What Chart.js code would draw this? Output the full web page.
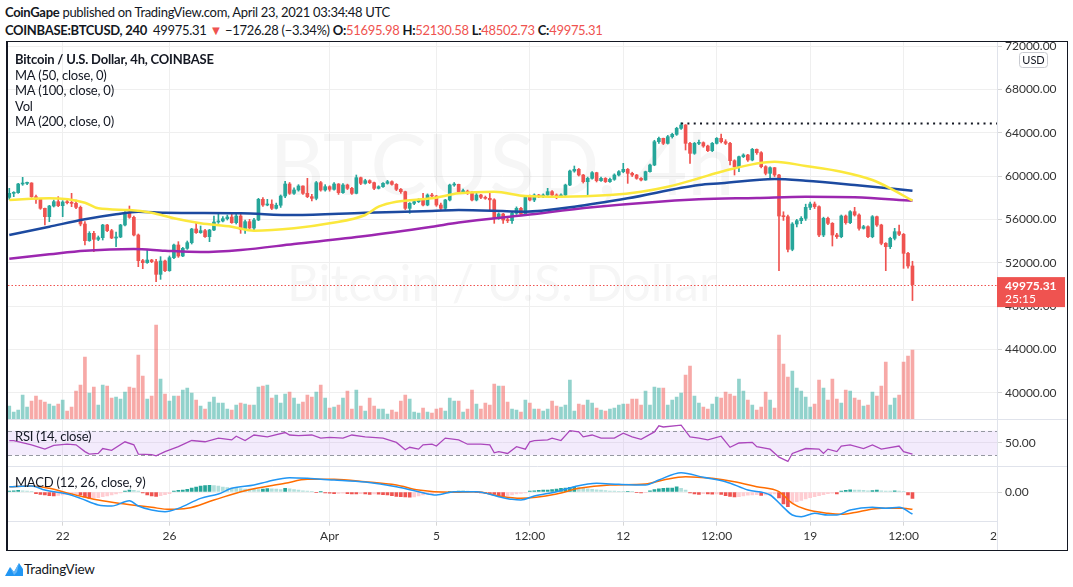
<!DOCTYPE html>
<html>
<head>
<meta charset="utf-8">
<title>BTCUSD 4h</title>
<script src="https://cdn.jsdelivr.net/npm/chart.js@4.4.1/dist/chart.umd.min.js"></script>
<style>
  body { margin: 0; width: 1073px; height: 587px; background: #fff; overflow: hidden; position: relative;
         font-family: Lato, "Noto Sans", sans-serif; color: #131722; }
  .hdr { position: absolute; left: 5px; font-size: 13px; letter-spacing: -0.3px; line-height: 16px; white-space: nowrap; }
  .red { color: #ef5350; }
  #frame { position: absolute; left: 6px; top: 41px; width: 1059px; height: 508px;
           border: 1px solid #131722; border-left-width: 2px; }
  #chart { display: block; }
  .lab { position: absolute; left: 15px; font-size: 13px; letter-spacing: -0.2px; line-height: 15px; white-space: nowrap; }
  #tv { position: absolute; left: 24px; top: 561px; font-size: 13.5px; letter-spacing: -0.2px; }
</style>
</head>
<body>
<div class="hdr" style="top:4px"><b>CoinGape</b> published on TradingView.com, April 23, 2021 03:34:48 UTC</div>
<div class="hdr" style="top:22px"><b>COINBASE:BTCUSD, 240</b>&nbsp; 49975.31 <span class="red">&#9660;</span> &minus;1726.28 (&minus;3.34%) <b>O:</b><span class="red">51695.98</span> <b>H:</b><span class="red">52130.58</span> <b>L:</b><span class="red">48502.73</span> <b>C:</b><span class="red">49975.31</span></div>

<div id="frame"><canvas id="chart" width="1059" height="508"></canvas></div>

<div class="lab" style="top:52px;font-weight:bold">Bitcoin / U.S. Dollar, 4h, COINBASE</div>
<div class="lab" style="top:68px">MA (50, close, 0)</div>
<div class="lab" style="top:83px">MA (100, close, 0)</div>
<div class="lab" style="top:99px">Vol</div>
<div class="lab" style="top:114px">MA (200, close, 0)</div>
<div class="lab" style="top:429px">RSI (14, close)</div>
<div class="lab" style="top:475px">MACD (12, 26, close, 9)</div>

<svg style="position:absolute;left:4px;top:559px" width="20" height="20" viewBox="0 0 20 20">
  <path d="M1 17 L6 8 L10 13 L15 4 L19 10 L19 17 Z" fill="#2196f3"/>
  <path d="M6 8 L10 13 L15 4 L13 13 L10 16 Z" fill="#64b5f6"/>
</svg>
<div id="tv">TradingView</div>

<script>
// 4h candles, Mar 20 - Apr 23 2021 (open of each candle = previous close)
const firstOpen = 58031;
const closes = [
  58400, 58462, 59262, 59323, 59354, 58092, 57846, 57016, 56246, 57231,
  57631, 57262, 57600, 57538, 57477, 57108, 55569, 54031, 54708, 54154,
  54308, 55477, 54954, 54277, 54369, 55477, 56615, 56185, 54554, 52185,
  52000, 52246, 52092, 50923, 52154, 51262, 52462, 53631, 52615, 53323,
  53846, 55108, 54769, 54954, 54400, 55015, 55754, 55846, 56062, 56215,
  55692, 56308, 55077, 55785, 55200, 55938, 57846, 57323, 57400, 57015,
  57300, 58154, 59262, 58400, 58708, 59077, 58400, 58092, 57938, 59385,
  58708, 59015, 58770, 59262, 58462, 59170, 58862, 58400, 59846, 59323,
  59570, 59385, 58862, 59015, 59323, 59477, 59230, 58770, 58554, 57015,
  57477, 57631, 57785, 57323, 58246, 58154, 57323, 57015, 57785, 59170,
  59230, 58554, 58600, 58450, 57785, 58246, 58031, 57938, 57800, 56092,
  56492, 55938, 55877, 56554, 57015, 56492, 58031, 57785, 58246, 58092,
  58246, 58554, 58246, 58031, 58246, 59169, 60461, 60615, 60092, 59477,
  59784, 60307, 59569, 59784, 59477, 59692, 60092, 60400, 60615, 60246,
  60092, 59784, 59630, 60400, 61015, 63169, 63477, 63015, 63630, 63846,
  64400, 64707, 63015, 62092, 63015, 63077, 62769, 62338, 63015, 63477,
  63169, 63015, 61415, 60861, 61784, 61938, 61477, 62461, 62153, 60861,
  60246, 60769, 60092, 56307, 56246, 53230, 55569, 55877, 56092, 57107,
  57415, 57169, 54553, 56092, 55631, 54553, 54400, 56307, 55692, 56707,
  56400, 55169, 55323, 54400, 56246, 55477, 53784, 53477, 54246, 54861,
  54615, 52861, 51695.98, 49975.31
];
const highs = [
  58862, 58555, 59323, 59877, 59446, 59385, 58246, 57877, 57046, 57292,
  57785, 58092, 57723, 57846, 58400, 57785, 57231, 55800, 54862, 54892,
  54462, 55538, 55538, 55077, 54831, 55538, 56708, 57231, 56308, 54646,
  52308, 53231, 52308, 52308, 52554, 52246, 52615, 53723, 53938, 53415,
  54000, 55169, 55631, 55385, 55077, 55077, 56308, 56646, 56246, 56400,
  56554, 56554, 56554, 55938, 56000, 56100, 57938, 58000, 57850, 57800,
  57500, 58250, 59500, 59400, 58900, 59200, 59100, 59785, 58300, 59500,
  59500, 59200, 59100, 59400, 59300, 59300, 59250, 58950, 60092, 59900,
  59700, 59650, 59450, 59100, 59400, 59600, 59550, 59300, 58850, 58600,
  57550, 57750, 57900, 58400, 58350, 58400, 58200, 57500, 57850, 59250,
  59400, 59250, 58800, 58700, 58554, 58400, 58300, 58150, 58400, 57900,
  56600, 56550, 56100, 56650, 57150, 57108, 58100, 58246, 58350, 58300,
  58350, 58862, 58650, 58350, 58350, 59250, 60550, 60923, 60700, 60150,
  59900, 60400, 60350, 59900, 59850, 59800, 60200, 60500, 61169, 60700,
  60350, 60150, 59850, 60450, 61100, 63300, 63600, 63500, 63750, 63950,
  64500, 64900, 64750, 63100, 63100, 63323, 63150, 62850, 63100, 63550,
  63877, 63350, 63100, 61500, 61850, 62050, 62000, 62550, 62500, 62250,
  60950, 60850, 60800, 60150, 56700, 56400, 55700, 56000, 56250, 57400,
  57600, 57600, 57250, 56200, 56200, 55700, 54700, 56400, 56400, 56800,
  57107, 56500, 55450, 55400, 56350, 56300, 55550, 53850, 54350, 55169,
  55477, 54700, 52950, 52130.58
];
const lows = [
  57846, 58092, 58400, 59138, 59200, 58031, 57477, 56923, 55477, 55785,
  57138, 57169, 56246, 57415, 57169, 56985, 55400, 53631, 53969, 53015,
  54031, 54092, 54862, 54215, 53477, 54308, 55385, 56092, 54462, 51631,
  51446, 51938, 52000, 50246, 50462, 51169, 51200, 52369, 52492, 52554,
  53231, 53723, 54708, 54708, 54338, 53938, 54954, 55631, 55754, 55938,
  55631, 55569, 54708, 54708, 55100, 55000, 55877, 57200, 57250, 56900,
  56950, 57100, 58000, 58300, 58300, 58600, 58300, 58000, 57700, 57800,
  58600, 58600, 58600, 58700, 58300, 58400, 58750, 58300, 58350, 59200,
  59250, 59300, 58750, 58800, 58950, 59250, 59150, 58650, 58400, 56900,
  56554, 57350, 57550, 57250, 57250, 58050, 57200, 56900, 56862, 57700,
  59050, 58450, 58400, 58300, 57700, 57700, 57900, 57850, 56862, 55631,
  56000, 55631, 55700, 55631, 56450, 56400, 56450, 57700, 57631, 58000,
  58000, 58200, 58150, 57900, 58000, 58150, 59100, 60350, 60000, 59350,
  58246, 59700, 59450, 59500, 59400, 59400, 59600, 60000, 60300, 59323,
  59950, 59700, 59550, 59600, 60350, 60950, 63000, 62900, 62950, 63500,
  63750, 64300, 62400, 61169, 62000, 62900, 62650, 62250, 62250, 62950,
  63050, 62900, 61015, 60092, 60400, 61700, 61350, 61400, 62000, 60750,
  60100, 59723, 59950, 51261, 55900, 53000, 53100, 55300, 55600, 55900,
  56900, 57000, 54400, 54400, 55500, 53538, 54250, 54300, 55550, 55600,
  56300, 55000, 55100, 54300, 54300, 55350, 53650, 51261, 53300, 54100,
  54500, 51476, 51500, 48502.73
];
const volumes = [
  1300, 700, 900, 2400, 1200, 1800, 2300, 1900, 1700, 1500,
  1300, 1500, 1900, 800, 1200, 2800, 3400, 6200, 2600, 3200,
  1400, 3400, 3300, 2100, 2200, 2000, 2700, 3200, 3100, 6400,
  4300, 2000, 2300, 9400, 4000, 2500, 1800, 2300, 2300, 2900,
  3100, 2600, 1900, 1300, 1000, 1700, 2200, 1600, 1600, 1000,
  900, 1400, 1600, 1500, 1400, 1400, 3200, 3300, 3400, 2100,
  2400, 1600, 2500, 2700, 2100, 1500, 1700, 2400, 2200, 2700,
  3400, 2100, 1100, 1200, 1400, 2100, 2800, 1000, 2900, 1300,
  800, 2100, 1300, 1000, 1000, 500, 900, 700, 1800, 2400,
  2000, 700, 600, 1100, 700, 600, 1000, 1100, 800, 2100,
  1800, 1800, 700, 1000, 2900, 1500, 1000, 1600, 1400, 3500,
  3300, 3300, 1700, 1000, 900, 700, 1900, 1600, 1000, 1000,
  800, 1000, 1800, 1300, 1200, 1400, 3900, 800, 1500, 1400,
  1900, 1600, 1100, 900, 800, 1000, 1100, 1400, 1500, 1500,
  2000, 2000, 1400, 2800, 1400, 3200, 3100, 3100, 1400, 1900,
  2200, 2600, 4400, 5300, 2300, 1600, 1200, 1000, 1500, 2200,
  2100, 2700, 2500, 2300, 4000, 2800, 1900, 1400, 900, 1200,
  2700, 1900, 1100, 8400, 5500, 4200, 4800, 3100, 2800, 2200,
  1200, 1500, 3900, 3100, 1900, 4000, 2000, 1600, 2900, 2800,
  2100, 1900, 1300, 1400, 2700, 2300, 3300, 5700, 1400, 2100,
  2400, 5700, 6300, 6900
];

// moving averages as [candle, price]
const ma50 = [
  [0, 57785], [9, 57942], [17, 57536], [20, 57019], [27, 56862], [32, 56613], [37, 56096],
  [43, 55634], [50, 55320], [55, 54951], [64, 55173], [72, 55634], [80, 56400], [83, 57166],
  [87, 57628], [95, 57942], [101, 58403], [109, 58551], [116, 58154], [124, 58089], [135, 58246],
  [142, 58551], [148, 59012], [155, 59788], [160, 60397], [172, 61320], [179, 60923], [187, 60397],
  [194, 59631], [198, 58865], [203, 57720]
];
const ma100 = [
  [0, 54554], [9, 55320], [17, 56003], [24, 56465], [29, 56705], [35, 56613], [52, 56557],
  [64, 56400], [80, 56613], [95, 56770], [101, 56862], [116, 56705], [127, 57166], [139, 57942],
  [155, 59169], [160, 59326], [172, 59723], [179, 59566], [190, 59169], [203, 58643]
];
const ma200 = [
  [0, 52367], [9, 52773], [17, 53105], [28, 53262], [35, 53105], [43, 52985], [52, 53170],
  [64, 53724], [80, 54462], [95, 55320], [101, 55700], [116, 56400], [131, 57111], [155, 57849],
  [168, 57969], [179, 58089], [190, 58034], [203, 57720]
];

// RSI (14) as [candle, value]
const rsi = [
  [0, 54], [1, 54], [5, 47], [8, 40], [10, 46], [13, 48], [15, 47], [17, 36], [18, 32], [20, 33],
  [21, 41], [23, 38], [26, 52], [28, 47], [29, 32], [32, 31], [33, 29], [35, 36], [38, 44], [41, 54],
  [44, 52], [47, 58], [50, 55], [51, 61], [53, 54], [55, 63], [58, 60], [62, 67], [63, 63], [65, 62],
  [68, 63], [70, 58], [72, 59], [75, 58], [77, 63], [80, 60], [84, 58], [87, 51], [89, 39], [90, 43],
  [92, 40], [93, 47], [95, 48], [96, 45], [98, 58], [101, 55], [103, 48], [106, 48], [108, 47], [109, 34],
  [110, 36], [112, 33], [114, 44], [116, 40], [117, 52], [118, 54], [121, 55], [122, 58], [124, 54], [126, 70],
  [128, 68], [129, 60], [131, 63], [133, 58], [136, 58], [138, 66], [140, 60], [142, 56], [145, 68], [146, 78],
  [147, 76], [151, 79], [153, 60], [155, 58], [157, 55], [160, 61], [162, 43], [164, 50], [167, 51], [168, 44],
  [171, 40], [173, 27], [175, 20], [176, 33], [179, 41], [182, 40], [183, 33], [184, 40], [186, 36], [187, 45],
  [189, 47], [192, 41], [194, 47], [196, 40], [200, 45], [201, 36], [203, 32]
];

// MACD (12, 26, 9)
const macdLine = [
  [0, 267], [5, 300], [8, 100], [13, -100], [16, -317], [20, -650], [23, -700], [27, -433], [29, -700],
  [32, -900], [35, -983], [38, -817], [43, -317], [47, -100], [50, 183], [55, 350], [58, 517], [63, 717],
  [67, 683], [70, 633], [73, 600], [80, 500], [87, 267], [92, 17], [96, -150], [100, 17], [105, 17],
  [110, -233], [113, -367], [115, -400], [118, -200], [123, 17], [127, 267], [132, 433], [137, 383],
  [143, 350], [146, 600], [151, 967], [156, 733], [161, 517], [166, 100], [171, -150], [174, -767],
  [176, -1150], [178, -1233], [181, -1067], [184, -1150], [186, -1150], [189, -900], [194, -767],
  [197, -817], [200, -767], [203, -1100]
];
const signalLine = [
  [0, 267], [5, 300], [9, 183], [14, -100], [20, -400], [26, -600], [32, -767], [36, -867], [40, -817],
  [46, -400], [53, 67], [62, 433], [67, 633], [73, 633], [80, 517], [87, 350], [92, 100], [99, -17],
  [105, 17], [110, -200], [115, -317], [123, -100], [128, 183], [135, 350], [143, 400], [147, 600],
  [152, 767], [158, 683], [163, 517], [168, 267], [173, 17], [176, -567], [179, -867], [184, -1067],
  [187, -1117], [191, -983], [196, -817], [201, -817], [203, -867]
];
const macdHist = [
  50, 60, 80, 60, 40, 20, -80, -120, -150, -180,
  -200, -170, -150, -120, -100, -80, -150, -250, -317, -300,
  -280, -230, -200, -150, -100, -40, 50, 100, 80, 50,
  -50, -150, -200, -220, -180, -130, -80, 50, 80, 100,
  130, 200, 250, 300, 320, 330, 320, 300, 250, 220,
  200, 180, 170, 150, 140, 130, 120, 150, 170, 160,
  140, 120, 180, 160, 120, 90, 60, 40, 20, -20,
  10, -40, -60, -80, -70, -60, -80, -90, -100, -80,
  -100, -120, -100, -110, -130, -150, -180, -220, -230, -240,
  -260, -250, -200, -150, -100, -80, -50, -30, -10, 20,
  30, 50, 50, 40, 30, -20, -50, -60, -80, -120,
  -200, -220, -180, -150, -100, -70, -40, 40, 60, 80,
  90, 100, 120, 150, 180, 200, 230, 260, 220, 190,
  160, 130, 110, 90, 70, 50, 40, 30, 20, 30,
  20, -20, -40, -30, 60, 120, 160, 180, 190, 200,
  260, 180, 100, -50, -100, -120, -80, -100, -110, -90,
  -120, -180, -220, -250, -230, -200, -160, -140, -130, -170,
  -150, -120, -100, -300, -600, -730, -550, -480, -420, -350,
  -280, -230, -180, -130, -80, -60, -100, 40, 80, 110,
  100, 90, 80, 60, 70, 90, 60, 50, 40, 60,
  50, 30, -150, -317
];

// time axis: candle index of each label
const timeTicks = [12, 36, 72, 96, 117, 138, 159, 180, 201, 222];
const timeLabels = ['22', '26', 'Apr', '5', '12:00', '12', '12:00', '19', '12:00', '26'];
const priceTicks = [40000, 44000, 48000, 52000, 56000, 60000, 64000, 68000, 72000];

const UP = '#26a69a';
const DOWN = '#ef5350';
const opens = closes.map((c, i) => i === 0 ? firstOpen : closes[i - 1]);
const candleColors = closes.map((c, i) => c >= opens[i] ? UP : DOWN);
const volColors = closes.map((c, i) => c >= opens[i] ? 'rgba(38,166,154,0.5)' : 'rgba(239,83,80,0.5)');
const histColors = macdHist.map((h, i) => {
    const prev = i > 0 ? macdHist[i - 1] : h;
    if (h >= 0) return h >= prev ? '#26a69a' : '#b2dfdb';
    return h < prev ? '#ef5350' : '#ffcdd2';
});
const toPoints = arr => arr.map(p => ({x: p[0], y: p[1]}));

Chart.defaults.font.family = 'Lato, "Noto Sans", sans-serif';
Chart.defaults.font.size = 12;
Chart.defaults.color = '#333';

function fitText(ctx, text, cx, cy, width) {
    ctx.font = '100px Lato';
    const w = ctx.measureText(text).width;
    ctx.font = (100 * width / w).toFixed(1) + 'px Lato';
    ctx.fillText(text, cx, cy);
}

const overlay = {
    id: 'overlay',
    beforeDatasetsDraw(chart) {
        const {ctx, chartArea: a, scales} = chart;
        ctx.save();
        // watermark
        ctx.fillStyle = 'rgba(19,23,34,0.04)';
        ctx.textAlign = 'center';
        ctx.textBaseline = 'middle';
        fitText(ctx, 'BTCUSD, 4h', 494, 126, 465);
        fitText(ctx, 'Bitcoin / U.S. Dollar', 494, 243, 430);
        // RSI band
        const r = scales.yRsi;
        const y70 = r.getPixelForValue(70), y30 = r.getPixelForValue(30);
        ctx.fillStyle = 'rgba(155,90,230,0.12)';
        ctx.fillRect(a.left, y70, a.right - a.left, y30 - y70);
        ctx.strokeStyle = '#9598a1';
        ctx.lineWidth = 1;
        ctx.setLineDash([4, 3]);
        [y70, y30].forEach(y => {
            ctx.beginPath();
            ctx.moveTo(a.left, Math.round(y) + 0.5);
            ctx.lineTo(a.right, Math.round(y) + 0.5);
            ctx.stroke();
        });
        ctx.restore();
    },
    afterDatasetsDraw(chart) {
        const {ctx, chartArea: a, scales} = chart;
        ctx.save();
        // highest high, dotted
        let hi = 0;
        highs.forEach((h, i) => { if (h > highs[hi]) hi = i; });
        const yHi = Math.round(scales.y.getPixelForValue(highs[hi])) + 0.5;
        ctx.strokeStyle = '#131722';
        ctx.lineWidth = 2;
        ctx.setLineDash([2, 4.3]);
        ctx.beginPath();
        ctx.moveTo(scales.x.getPixelForValue(hi), yHi);
        ctx.lineTo(a.right, yHi);
        ctx.stroke();
        // last price, dotted red
        const last = closes[closes.length - 1];
        const yLast = Math.round(scales.y.getPixelForValue(last)) + 0.5;
        ctx.strokeStyle = DOWN;
        ctx.lineWidth = 1;
        ctx.setLineDash([1.5, 2]);
        ctx.beginPath();
        ctx.moveTo(a.left, yLast);
        ctx.lineTo(a.right, yLast);
        ctx.stroke();
        ctx.restore();
    },
    afterDraw(chart) {
        const {ctx, scales, width, height, chartArea: a} = chart;
        ctx.save();
        // time labels stop at the price scale
        ctx.fillStyle = '#fff';
        ctx.fillRect(a.right + 1, a.bottom + 1, width - a.right, height - a.bottom);
        ctx.strokeStyle = '#e0e3eb';
        ctx.lineWidth = 1;
        ctx.beginPath();
        ctx.moveTo(Math.round(a.right) + 0.5, a.bottom);
        ctx.lineTo(Math.round(a.right) + 0.5, height);
        ctx.stroke();
        // pane separators
        [scales.yRsi.top, scales.yMacd.top].forEach(y => {
            ctx.beginPath();
            ctx.moveTo(0, Math.round(y) + 0.5);
            ctx.lineTo(width, Math.round(y) + 0.5);
            ctx.stroke();
        });
        // last price label
        const last = closes[closes.length - 1];
        const yLast = scales.y.getPixelForValue(last);
        ctx.fillStyle = DOWN;
        ctx.fillRect(989, yLast - 7.5, 68, 30);
        ctx.fillStyle = '#fff';
        ctx.textBaseline = 'middle';
        ctx.textAlign = 'left';
        ctx.font = 'bold 12px Lato';
        ctx.fillText(last.toFixed(2), 997, yLast + 1.5);
        ctx.font = '12px Lato';
        ctx.fillText('25:15', 997, yLast + 15);
        // USD badge
        ctx.beginPath();
        ctx.roundRect(1011.5, 10.5, 28, 15, 3);
        ctx.fillStyle = '#fff';
        ctx.fill();
        ctx.strokeStyle = '#c9cbd1';
        ctx.stroke();
        ctx.fillStyle = '#131722';
        ctx.textAlign = 'center';
        ctx.font = '11px Lato';
        ctx.fillText('USD', 1025.5, 18.5);
        ctx.restore();
    }
};

function fitRight(s) {
    s.width = 70;
    s.paddingTop = 0;
    s.paddingBottom = 0;
}
const gridColor = '#efefef';
const axisBorder = {color: '#e0e3eb'};

new Chart(document.getElementById('chart'), {
    type: 'bar',
    data: {
        datasets: [
            {type: 'line', label: 'MA 50', data: toPoints(ma50), yAxisID: 'y', borderColor: '#fbe83d',
             borderWidth: 2.5, pointRadius: 0, cubicInterpolationMode: 'monotone'},
            {type: 'line', label: 'MA 100', data: toPoints(ma100), yAxisID: 'y', borderColor: '#1c4aa0',
             borderWidth: 2.5, pointRadius: 0, cubicInterpolationMode: 'monotone'},
            {type: 'line', label: 'MA 200', data: toPoints(ma200), yAxisID: 'y', borderColor: '#9c27b0',
             borderWidth: 2.5, pointRadius: 0, cubicInterpolationMode: 'monotone'},
            {label: 'Body', data: closes.map((c, i) => ({x: i, y: [opens[i], c]})), yAxisID: 'y',
             backgroundColor: candleColors, barThickness: 3, minBarLength: 1, grouped: false},
            {label: 'Wick', data: closes.map((c, i) => ({x: i, y: [lows[i], highs[i]]})), yAxisID: 'y',
             backgroundColor: candleColors, barThickness: 1, grouped: false},
            {label: 'Vol', data: volumes.map((v, i) => ({x: i, y: v})), yAxisID: 'yVol',
             backgroundColor: volColors, barThickness: 3, grouped: false},
            {type: 'line', label: 'RSI', data: toPoints(rsi), yAxisID: 'yRsi', borderColor: '#ab47bc',
             borderWidth: 1.3, pointRadius: 0},
            {type: 'line', label: 'MACD', data: toPoints(macdLine), yAxisID: 'yMacd', borderColor: '#2196f3',
             borderWidth: 1.5, pointRadius: 0, cubicInterpolationMode: 'monotone'},
            {type: 'line', label: 'Signal', data: toPoints(signalLine), yAxisID: 'yMacd', borderColor: '#ff6d00',
             borderWidth: 1.5, pointRadius: 0, cubicInterpolationMode: 'monotone'},
            {label: 'Histogram', data: macdHist.map((h, i) => ({x: i, y: h})), yAxisID: 'yMacd',
             backgroundColor: histColors, barThickness: 3, grouped: false}
        ]
    },
    options: {
        responsive: false,
        animation: false,
        layout: {padding: 0},
        plugins: {legend: {display: false}, tooltip: {enabled: false}},
        scales: {
            x: {
                type: 'linear', position: 'bottom', min: -0.29, max: 222, offset: false,
                grid: {color: gridColor, tickColor: '#d6d6d6', tickLength: 4, offset: false},
                border: axisBorder,
                ticks: {autoSkip: false, maxRotation: 0, padding: 3,
                        callback: v => timeLabels[timeTicks.indexOf(v)]},
                afterBuildTicks: s => { s.ticks = timeTicks.map(v => ({value: v})); },
                afterFit: s => { s.height = 28.3; s.paddingLeft = 0; s.paddingRight = 0; }
            },
            y: {
                position: 'right', stack: 'panes', stackWeight: 377, min: 37570, max: 72370,
                grid: {color: gridColor, tickColor: '#d6d6d6', tickLength: 5},
                border: axisBorder,
                ticks: {autoSkip: false, padding: 3, callback: v => v.toFixed(2)},
                afterBuildTicks: s => { s.ticks = priceTicks.map(v => ({value: v})); },
                afterFit: fitRight
            },
            yRsi: {
                position: 'right', stack: 'panes', stackWeight: 47, min: 12.6, max: 89,
                grid: {color: gridColor, tickColor: '#d6d6d6', tickLength: 5},
                border: axisBorder,
                ticks: {padding: 3, callback: v => v.toFixed(2)},
                afterBuildTicks: s => { s.ticks = [{value: 50}]; },
                afterFit: fitRight
            },
            yMacd: {
                position: 'right', stack: 'panes', stackWeight: 55.7, min: -1485, max: 1300,
                grid: {color: gridColor, tickColor: '#d6d6d6', tickLength: 5},
                border: axisBorder,
                ticks: {padding: 3, callback: v => v.toFixed(2)},
                afterBuildTicks: s => { s.ticks = [{value: 0}]; },
                afterFit: fitRight
            },
            yVol: {display: false, min: -10270, max: 37700}
        }
    },
    plugins: [overlay]
});
</script>
</body>
</html>
